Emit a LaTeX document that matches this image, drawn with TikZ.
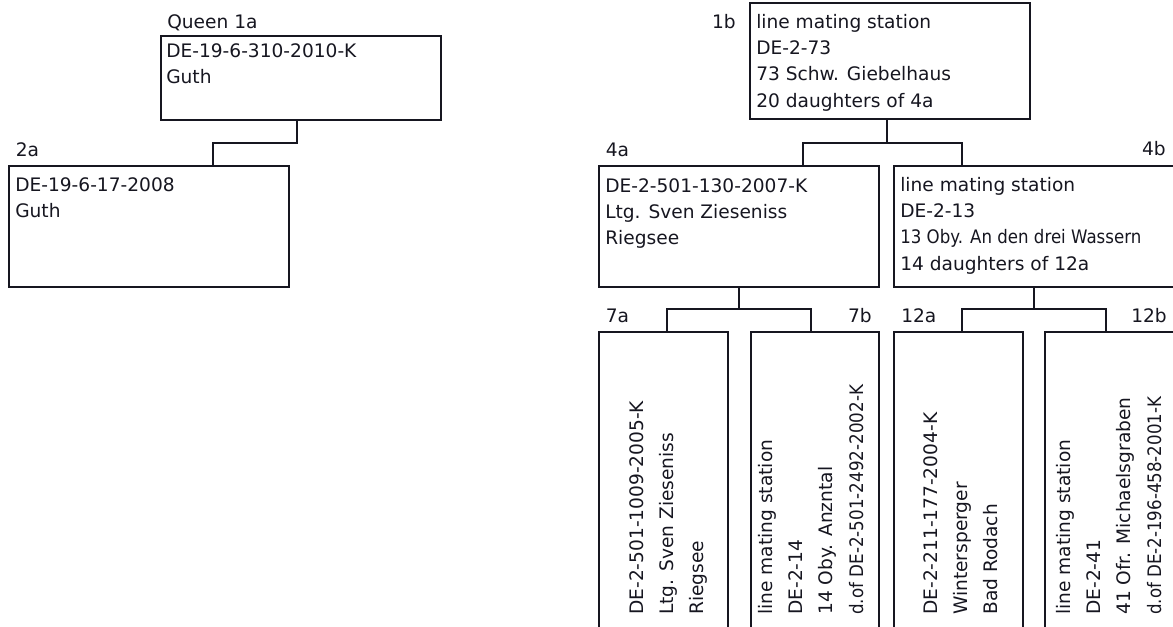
\documentclass[tikz,border=0pt]{standalone}
\usepackage{fontspec}
\setmainfont{DejaVu Sans}
\usetikzlibrary{fit}
\definecolor{ink}{RGB}{22,22,32}
\begin{document}
\begin{tikzpicture}[x=0.75pt,y=-0.75pt,
  box/.style={draw=ink, rectangle, line width=1.05pt, inner sep=0pt},
  txt/.style={inner sep=0pt, anchor=base west, align=left, text=ink, font=\fontsize{13.95}{19.8}\selectfont},
  vtxt/.style={inner sep=0pt, anchor=base west, align=left, rotate=90, text=ink, font=\fontsize{13.95}{22.8}\selectfont},
  lab/.style={inner sep=0pt, text=ink, font=\fontsize{13.95}{19.8}\selectfont},
  conn/.style={draw=ink, line width=1.05pt}]
\useasboundingbox (0,0) rectangle (1173,626);
\clip (0,0) rectangle (1173,626);
% boxes
\node[box, fit={(161,36)(441,120)}] (b1a) {};
\node[box, fit={(9,166)(289,287)}] (b2a) {};
\node[box, fit={(750,3)(1030,119)}] (b1b) {};
\node[box, fit={(599,166)(879,287)}] (b4a) {};
\node[box, fit={(894,166)(1175,287)}] (b4b) {};
\node[box, fit={(599,332)(728,645)}] (b7a) {};
\node[box, fit={(751,332)(879,645)}] (b7b) {};
\node[box, fit={(894,332)(1023,645)}] (b12a) {};
\node[box, fit={(1045,332)(1175,645)}] (b12b) {};
% labels
\node[lab, anchor=base west] (l1a) at (167,28) {Queen 1a};
\node[lab, anchor=base west] (l2a) at (15.5,156) {2a};
\node[lab, anchor=base east] (l1b) at (736,28) {1b};
\node[lab, anchor=base west] (l4a) at (605.5,156) {4a};
\node[lab, anchor=base east] (l4b) at (1166,155) {4b};
\node[lab, anchor=base west] (l7a) at (605.5,322) {7a};
\node[lab, anchor=base east] (l7b) at (872,322) {7b};
\node[lab, anchor=base west] (l12a) at (901,322) {12a};
\node[lab, anchor=base east] (l12b) at (1167,322) {12b};
% box texts (anchored at the baseline of the last line)
\node[txt] (t1a) at (166,83.4) {DE-19-6-310-2010-K\\Guth};
\node[txt] (t2a) at (15,217.4) {DE-19-6-17-2008\\Guth};
\node[txt] (t1b) at (756,107.2) {line mating station\\DE-2-73\\73 Schw. Giebelhaus\\20 daughters of 4a};
\node[txt] (t4a) at (605,244.8) {DE-2-501-130-2007-K\\Ltg. Sven Zieseniss\\Riegsee};
\node[txt] (t4b) at (900,270.2) {line mating station\\DE-2-13\\\scalebox{0.894}[1]{13 Oby. An den drei Wassern}\\14 daughters of 12a};
\node[vtxt] (t7a) at (703.8,615) {DE-2-501-1009-2005-K\\Ltg. Sven Zieseniss\\Riegsee};
\node[vtxt] (t7b) at (863.2,615) {line mating station\\DE-2-14\\14 Oby. Anzntal\\\scalebox{0.9}[1]{d.of DE-2-501-2492-2002-K}};
\node[vtxt] (t12a) at (997.8,615) {DE-2-211-177-2004-K\\Wintersperger\\Bad Rodach};
\node[vtxt] (t12b) at (1161.2,615) {line mating station\\DE-2-41\\41 Ofr. Michaelsgraben\\\scalebox{0.895}[1]{d.of DE-2-196-458-2001-K}};
% junctions
\coordinate (j1a) at (297,143);
\coordinate (j2a) at (213,143);
\coordinate (j1b) at (887,143);
\coordinate (j4a) at (803,143);
\coordinate (j4b) at (962,143);
\coordinate (k4a) at (739,309);
\coordinate (k7a) at (667,309);
\coordinate (k7b) at (811,309);
\coordinate (k4b) at (1034,309);
\coordinate (k12a) at (962,309);
\coordinate (k12b) at (1106,309);
% connectors
\draw[conn] (j1a |- b1a.south) -- (j1a) -- (j2a) -- (j2a |- b2a.north);
\draw[conn] (j1b |- b1b.south) -- (j1b);
\draw[conn] (j4a |- b4a.north) -- (j4a) -- (j4b) -- (j4b |- b4b.north);
\draw[conn] (k4a |- b4a.south) -- (k4a);
\draw[conn] (k7a |- b7a.north) -- (k7a) -- (k7b) -- (k7b |- b7b.north);
\draw[conn] (k4b |- b4b.south) -- (k4b);
\draw[conn] (k12a |- b12a.north) -- (k12a) -- (k12b) -- (k12b |- b12b.north);
\end{tikzpicture}
\end{document}
